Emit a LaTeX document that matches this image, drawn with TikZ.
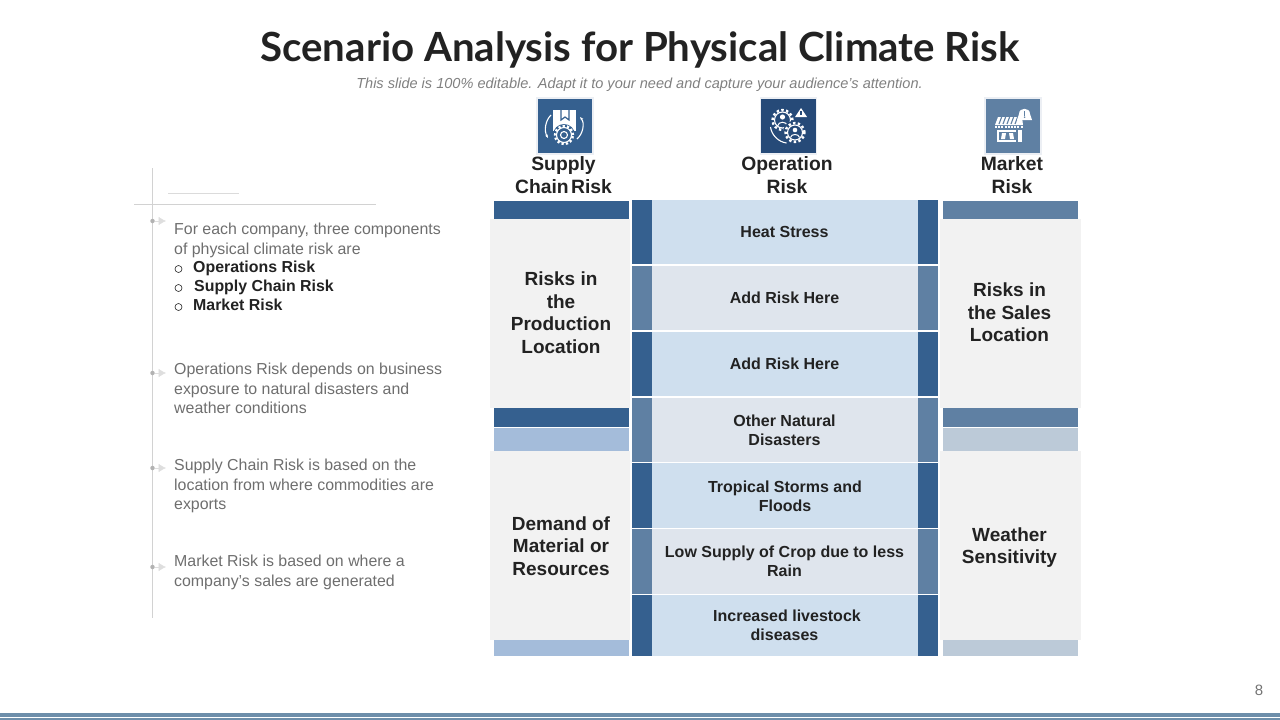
\documentclass[tikz,border=0pt]{standalone}
\usepackage{fontspec}
\setmainfont{Liberation Sans}
\newfontfamily\titlefont{Lato}
\usetikzlibrary{positioning,arrows.meta,calc}
\definecolor{riskdeep}{HTML}{35608F}
\definecolor{riskslate}{HTML}{5F80A3}
\definecolor{riskpale}{HTML}{CFDFEE}
\definecolor{riskmist}{HTML}{DFE5ED}
\definecolor{risksky}{HTML}{A4BCDA}
\definecolor{riskfog}{HTML}{BCCAD8}
\definecolor{riskpanel}{HTML}{F2F2F2}
\definecolor{riskink}{HTML}{222222}
\definecolor{riskmute}{HTML}{6E6E6E}
\definecolor{riskrule}{HTML}{D2D2D2}
\definecolor{risknavy}{HTML}{264A78}
\definecolor{riskband}{HTML}{6D8EAA}

\begin{document}
\begin{tikzpicture}[
  x=1pt, y=-1pt,
  cell/.style={anchor=center, align=center, inner sep=0pt, outer sep=0pt, font=\fontsize{16}{19.2}\selectfont\bfseries, text=riskink},
  bar/.style={inner sep=0pt, outer sep=0pt, minimum width=20pt},
  strip/.style={inner sep=0pt, outer sep=0pt, anchor=north west, minimum width=135pt},
  panel/.style={inner sep=0pt, outer sep=0pt, fill=riskpanel, align=center, font=\fontsize{19}{22.5}\selectfont\bfseries, text=riskink},
  head/.style={align=center, inner sep=0pt, font=\fontsize{19.3}{23}\selectfont\bfseries, text=riskink},
  iconbox/.style={inner sep=0pt, outer sep=0pt, minimum size=56pt, draw=riskmist!60, line width=1.2pt},
  note/.style={anchor=north west, align=left, inner sep=0pt, font=\fontsize{15.9}{19.5}\selectfont, text=riskmute},
  dot/.style={circle, fill=black!30, inner sep=0pt, minimum size=4.5pt},
  tick/.style={-{Latex[length=7.5pt,width=8.5pt]}, draw=black!13, line width=.5pt},
  rule/.style={draw=riskrule, line width=.8pt},
  ico/.style={draw=white, line width=1.1pt, fill=none},
  arc/.style={ico, ->, >={Stealth[length=3.5pt]}}
]
\useasboundingbox (0,0) rectangle (1280,720);

\node[inner sep=0pt, font=\titlefont\fontsize{40.2}{44}\selectfont\bfseries, text=riskink] (title) at (640,49.5) {Scenario Analysis for Physical Climate Risk};
\node[inner sep=0pt, font=\fontsize{14.55}{16}\selectfont\itshape, text=black!50] (sub) at (639.5,85) {This slide is 100\% editable. Adapt it to your need and capture your audience’s attention.};

% grey panels go first, strips sit over them
\node[panel, minimum width=140pt, minimum height=189pt] (pa) at (560,313.5) {};
\node[panel, minimum width=140pt, minimum height=189pt] (pb) at (560,545.5) {};
\node[panel, minimum width=141pt, minimum height=189pt] (pc) at (1010.5,313.5) {};
\node[panel, minimum width=141pt, minimum height=189pt] (pd) at (1010.5,545.5) {};
\node[panel, fill=none] at (561,312.5) {Risks in\\the\\Production\\Location};
\node[panel, fill=none] at (561,546) {Demand of\\Material or\\Resources};
\node[panel, fill=none] at (1009.5,312.5) {Risks in\\the Sales\\Location};
\node[panel, fill=none] at (1009.5,547.5) {Weather\\Sensitivity};

% left and right strips
\foreach \x/\c/\d/\m in {494/sa/riskdeep/risksky,943/sb/riskslate/riskfog}{
  \node[strip, fill=\d, minimum height=18pt] (\c1) at (\x,201) {};
  \node[strip, fill=\d, minimum height=19pt] (\c2) at (\x,408) {};
  \node[strip, fill=\m, minimum height=23pt] (\c3) at (\x,428) {};
  \node[strip, fill=\m, minimum height=16pt] (\c4) at (\x,640) {};
}

% middle rows: number / centre y / height / bar colour / fill / text x / text y / text
\foreach \n/\y/\h/\b/\f/\tx/\ty/\t in {
  1/232/64/riskdeep/riskpale/784.5/232/{Heat Stress},
  2/298/64/riskslate/riskmist/784.5/298/{Add Risk Here},
  3/364/64/riskdeep/riskpale/784.5/364/{Add Risk Here},
  4/430/64/riskslate/riskmist/784.5/430/{Other Natural\\Disasters},
  5/495.5/65/riskdeep/riskpale/785/496/{Tropical Storms and\\Floods},
  6/561.5/65/riskslate/riskmist/784.5/561/{Low Supply of Crop due to less\\Rain},
  7/625.5/61/riskdeep/riskpale/787/625/{Increased livestock\\\hspace*{-5pt}diseases}}{
  \node[cell, fill=\f, minimum width=266pt, minimum height=\h pt] (r\n) at (785,\y) {};
  \node[bar, fill=\b, minimum height=\h pt, left=0pt of r\n] (bl\n) {};
  \node[bar, fill=\b, minimum height=\h pt, right=0pt of r\n] (br\n) {};
  \node[cell] at (\tx,\ty) {\t};
}

% icons
\node[iconbox, fill=riskdeep] (ia) at (565,126) {};
\node[iconbox, fill=risknavy] (ib) at (788.5,126) {};
\node[iconbox, fill=riskslate] (ic) at (1013,126) {};
\node[head, below=2pt of ia.south, xshift=-1.5pt] (ha) {Supply\\Chain\hspace{-3pt} Risk};
\node[head, below=2pt of ib.south, xshift=-1.5pt] (hb) {Operation\\Risk};
\node[head, below=2pt of ic.south, xshift=-1pt] (hc) {Market\\Risk};

\begin{scope}[shift={(ia.center)}]
  \fill[white] (-12,-16) rectangle (11,5);
  \draw[riskdeep, line width=1.2pt] (-4,-16) -- (-4,-6) -- (0,-9) -- (4,-6) -- (4,-16);
  \fill[riskdeep] (-1,9) circle (11pt);
  \draw[white, line width=2.4pt, dash pattern=on 2.2pt off 2.2pt] (-1,9) circle (9pt);
  \draw[ico] (-1,9) circle (7.5pt);
  \draw[ico] (-1,9) circle (3.5pt);
  \draw[arc] (-14,-11) .. controls (-20,-5) and (-21,5) .. (-17,12);
  \draw[arc] (12,13) .. controls (18,8) and (20,-3) .. (15,-9);
\end{scope}

\begin{scope}[shift={(ib.center)}]
  \draw[white, line width=2.4pt, dash pattern=on 2.4pt off 2.4pt] (-6,-6) circle (10pt);
  \draw[ico] (-6,-6) circle (8pt);
  \fill[white] (-6,-9) circle (2.6pt);
  \draw[ico, line width=1pt] (-11,0) .. controls (-10,-5) and (-2,-5) .. (-1,0);
  \fill[risknavy] (6.5,6.5) circle (12pt);
  \draw[white, line width=2.4pt, dash pattern=on 2.4pt off 2.4pt] (6.5,6.5) circle (9.5pt);
  \draw[ico] (6.5,6.5) circle (7.5pt);
  \fill[white] (6.5,4) circle (2.3pt);
  \draw[ico, line width=1pt] (2,11.5) .. controls (2.5,7.5) and (10.5,7.5) .. (11,11.5);
  \fill[white] (12.5,-18) -- (18.5,-9) -- (6.5,-9) -- cycle;
  \fill[risknavy] (11.9,-15.5) rectangle (13.1,-11.5);
  \draw[ico] (-18,1) .. controls (-17,9) and (-10,16) .. (-2,17);
\end{scope}

\begin{scope}[shift={(ic.center)}]
  \fill[white] (-15,-9) -- (9,-9) -- (10,-1) -- (-18,-1) -- cycle;
  \foreach \s in {-11,-7,-3,1,5} \draw[riskslate, line width=1.1pt] (\s,-10) -- (\s-3,-2);
  \draw[white, line width=2.4pt, dash pattern=on 2pt off 1.2pt] (-18,.8) -- (10,.8);
  \fill[white] (-16,4) rectangle (9,16);
  \fill[riskslate] (-14,6) rectangle (3,14);
  \fill[white] (-11,7) -- (-7,7) -- (-8,13) -- (-12,13) -- cycle;
  \fill[white] (-4,7) -- (0,7) -- (1,13) -- (-3,13) -- cycle;
  \fill[riskslate] (3,4) rectangle (5,16);
  \fill[white] (6,-12) .. controls (6,-19) and (17,-19) .. (17,-12) -- (19,-6) -- (4,-6) -- cycle;
  \fill[riskslate] (10.8,-15) rectangle (12.4,-10.5);
  \fill[riskslate] (11.6,-8.8) circle (.9pt);
\end{scope}

% left timeline
\coordinate (tt) at (152.5,168);
\coordinate (tb) at (152.5,618);
\coordinate (hl) at (134,204);
\coordinate (hr) at (376,204);
\coordinate (sl) at (168,193);
\coordinate (sr) at (239,193);
\draw[rule] (tt) -- (tb);
\draw[rule] (hl) -- (hr);
\draw[rule, draw=riskrule!80] (sl) -- (sr);

\foreach \n/\y in {a/221,b/373,c/468,d/567}{
  \node[dot] (d\n) at (152.5,\y) {};
  \coordinate (e\n) at (166,\y);
  \draw[tick] (d\n) -- (e\n);
}

\node[note] (na) at (174,223) {For each company, three components\\of physical climate risk are};
\node[note, font=\fontsize{15.9}{19}\selectfont\bfseries, text=riskink] (nl) at (193,261) {Operations Risk\\\hspace*{1pt}Supply Chain Risk\\Market Risk};
\foreach \y in {269,288,307} \node[circle, draw=riskink, line width=.6pt, inner sep=0pt, minimum size=7pt] at (178.5,\y) {};
\node[note] (nb) at (174,363) {Operations Risk depends on business\\exposure to natural disasters and\\weather conditions};
\node[note] (nc) at (174,459) {Supply Chain Risk is based on the\\location from where commodities are\\exports};
\node[note] (nd) at (174,555) {Market Risk is based on where a\\company’s sales are generated};

% footer
\node[inner sep=0pt, font=\fontsize{15}{16}\selectfont, text=black!55] (pg) at (1259,690) {8};
\fill[riskband] (0,713) rectangle (1280,717.2);
\fill[riskband] (0,718.3) rectangle (1280,720);
\end{tikzpicture}
\end{document}
